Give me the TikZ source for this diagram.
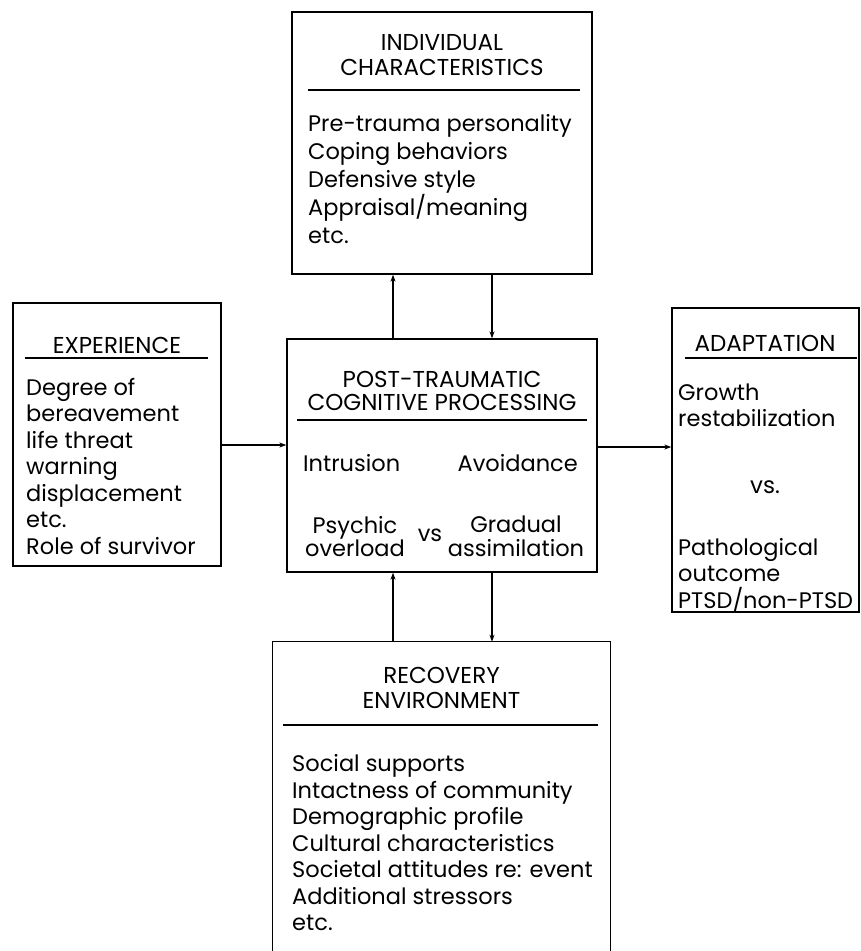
\documentclass[tikz,border=0pt]{standalone}
\usepackage{fontspec}
\setmainfont{Poppins}
\usetikzlibrary{arrows.meta}

\begin{document}
\begin{tikzpicture}[x=1pt,y=-1pt,
  box/.style={draw,line width=1.3pt,inner sep=0pt},
  head/.style={align=center,inner sep=0pt,font=\fontsize{23}{25}\selectfont},
  txt/.style={align=left,inner sep=0pt,font=\fontsize{22.5}{26.5}\selectfont},
  mid/.style={align=center,inner sep=0pt,font=\fontsize{22.5}{23.5}\selectfont},
  rule/.style={line width=1.2pt},
  arr/.style={line width=1.6pt,-{Stealth[length=7pt,width=5pt]}}]
  \useasboundingbox (0,0) rectangle (860,951);

  \path
  (442,143) node[box,minimum width=300pt,minimum height=262pt](indiv){}
  (117,434.5) node[box,minimum width=208pt,minimum height=263pt](exper){}
  (442,455.5) node[box,minimum width=310pt,minimum height=233pt](proc){}
  (765.5,460) node[box,minimum width=187pt,minimum height=304pt](adapt){}
  (441.5,796.5) node[minimum width=337pt,minimum height=309pt,inner sep=0pt](recov){}
  ;

  \path
  (442,55.5) node[head](indivhead){INDIVIDUAL\\CHARACTERISTICS}
  (308,179) node[txt,anchor=west,font=\fontsize{22.5}{28}\selectfont](indivlist){Pre-trauma personality\\Coping behaviors\\Defensive style\\Appraisal/meaning\\etc.}
  (117,345) node[head](experhead){EXPERIENCE}
  (26,466) node[txt,anchor=west](experlist){Degree of\\bereavement\\life threat\\warning\\displacement\\etc.\\Role of survivor}
  (442,391) node[mid,font=\fontsize{23}{22.5}\selectfont](prochead){POST-TRAUMATIC\\COGNITIVE PROCESSING}
  (303,463) node[mid,anchor=west](intr){Intrusion}
  (578,463) node[mid,anchor=east](avoid){Avoidance}
  (355,536.5) node[mid](psych){Psychic\\overload}
  (430,535) node[mid](vs){vs}
  (516,536.5) node[mid](grad){Gradual\\assimilation}
  (765,343) node[head](adapthead){ADAPTATION}
  (678,405.5) node[txt,anchor=west](growth){Growth\\restabilization}
  (765,487) node[head](vsb){vs.}
  (678,575) node[txt,anchor=west](patho){Pathological\\outcome\\PTSD/non-PTSD}
  (441.5,687.5) node[head](recovhead){RECOVERY\\ENVIRONMENT}
  (292,843) node[txt,anchor=west](recovlist){Social supports\\Intactness of community\\Demographic profile\\Cultural characteristics\\Societal attitudes re: event\\Additional stressors\\etc.}
  ;

  \draw[rule] (308,90) -- (580,90);
  \draw[rule] (25,358) -- (208,358);
  \draw[rule] (297,420) -- (587,420);
  \draw[rule] (685,358) -- (857,358);
  \draw[rule] (283,725) -- (598,725);
  \draw[box] (recov.south west) -- (recov.north west) -- (recov.north east) -- (recov.south east);

  \coordinate (lx) at (393,0);
  \coordinate (rx) at (492,0);
  \coordinate (ly) at (0,445);
  \coordinate (ry) at (0,447);
  \draw[arr] (lx |- proc.north) -- (lx |- indiv.south);
  \draw[arr] (rx |- indiv.south) -- (rx |- proc.north);
  \draw[arr] (lx |- recov.north) -- (lx |- proc.south);
  \draw[arr] (rx |- proc.south) -- (rx |- recov.north);
  \draw[arr] (exper.east |- ly) -- (proc.west |- ly);
  \draw[arr] (proc.east |- ry) -- (adapt.west |- ry);
\end{tikzpicture}
\end{document}
